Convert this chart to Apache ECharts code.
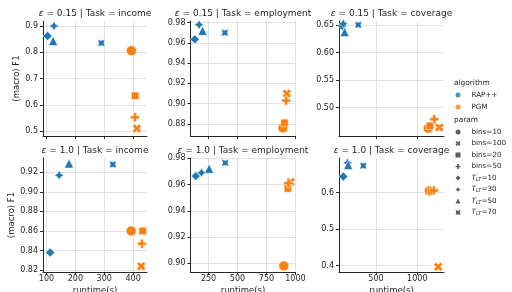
<!DOCTYPE html>
<html>
<head>
<meta charset="utf-8">
<script src="https://cdn.jsdelivr.net/npm/echarts@6/dist/echarts.min.js"></script>
<style>
html, body { margin: 0; padding: 0; background: #fff; }
#chart { width: 512px; height: 292px; }
</style>
</head>
<body>
<div id="chart"></div>
<script>
// point order in every panel: first 4 are RAP++, last 4 are PGM
const params = ['T_LT=10', 'T_LT=30', 'T_LT=50', 'T_LT=70', 'bins=10', 'bins=100', 'bins=20', 'bins=50'];
const algorithms = ['RAP++', 'PGM'];
const legendParams = ['bins=10', 'bins=100', 'bins=20', 'bins=50', 'T_LT=10', 'T_LT=30', 'T_LT=50', 'T_LT=70'];
const epsilons = ['0.15', '1.0'];
const tasks = ['income', 'employment', 'coverage'];

// ε = 0.15
const runtimeIncome015 = [104, 126, 123, 290, 394, 413, 407, 406];
const f1Income015 = [0.862, 0.900, 0.843, 0.835, 0.806, 0.510, 0.634, 0.552];
const runtimeEmployment015 = [131, 168, 198, 391, 892, 926, 906, 920];
const f1Employment015 = [0.9636, 0.978, 0.972, 0.970, 0.876, 0.910, 0.881, 0.903];
const runtimeCoverage015 = [92, 105, 121, 286, 1133, 1266, 1153, 1205];
const f1Coverage015 = [0.648, 0.652, 0.637, 0.650, 0.4625, 0.464, 0.467, 0.479];
// ε = 1.0
const runtimeIncome10 = [113, 144, 178, 330, 393, 428, 433, 430];
const f1Income10 = [0.838, 0.917, 0.929, 0.928, 0.860, 0.824, 0.860, 0.847];
const runtimeEmployment10 = [140, 189, 255, 394, 900, 960, 935, 940];
const f1Employment10 = [0.9664, 0.969, 0.972, 0.9765, 0.898, 0.962, 0.957, 0.961];
const runtimeCoverage10 = [105, 157, 165, 347, 1145, 1253, 1165, 1201];
const f1Coverage10 = [0.644, 0.682, 0.676, 0.674, 0.605, 0.397, 0.605, 0.606];

// tick labels
const xTicksIncome = [100, 200, 300, 400];
const xTicksEmployment = [250, 500, 750, 1000];
const xTicksCoverage = [500, 1000];
const yTicksIncome015 = [0.5, 0.6, 0.7, 0.8, 0.9];
const yTicksEmployment015 = [0.88, 0.90, 0.92, 0.94, 0.96, 0.98];
const yTicksCoverage015 = [0.50, 0.55, 0.60, 0.65];
const yTicksIncome10 = [0.82, 0.84, 0.86, 0.88, 0.90, 0.92];
const yTicksEmployment10 = [0.90, 0.92, 0.94, 0.96, 0.98];
const yTicksCoverage10 = [0.4, 0.5, 0.6];

// panels row by row
const runtimes = [runtimeIncome015, runtimeEmployment015, runtimeCoverage015, runtimeIncome10, runtimeEmployment10, runtimeCoverage10];
const f1s = [f1Income015, f1Employment015, f1Coverage015, f1Income10, f1Employment10, f1Coverage10];
const xTicks = [xTicksIncome, xTicksEmployment, xTicksCoverage];
const yTicks = [yTicksIncome015, yTicksEmployment015, yTicksCoverage015, yTicksIncome10, yTicksEmployment10, yTicksCoverage10];
const yDecimals = [1, 2, 2, 2, 2, 1];

// layout (matplotlib style margins)
const colLeft = [43, 190.5, 339];
const colWidth = [104, 105, 105];
const rowTop = [21, 158];
const rowHeight = [115, 114];
const xRange = [[88, 448], [94, 1001], [53, 1323]];
const yRange = [[0.481, 0.919], [0.868, 0.9817], [0.4486, 0.657], [0.818, 0.9346], [0.8934, 0.9802], [0.3827, 0.695]];

const colors = ['#1f77b4', '#ff7f0e'];
const ink = '#262626';
const font = 'DejaVu Sans';

const X_PATH = 'path://M1,0L2,1L3,0L4,1L3,2L4,3L3,4L2,3L1,4L0,3L1,2L0,1Z';
const P_PATH = 'path://M2,0L4,0L4,2L6,2L6,4L4,4L4,6L2,6L2,4L0,4L0,2L2,2Z';
const STAR_PATH = 'path://M2,0L1.29,1.29L0,2L1.29,2.71L2,4L2.71,2.71L4,2L2.71,1.29Z';
const STAR45_PATH = 'path://M0.586,0.586L2,1L3.414,0.586L3,2L3.414,3.414L2,3L0.586,3.414L1,2Z';
const markers = {
  'bins=10': ['circle', 10],
  'bins=100': [X_PATH, 9],
  'bins=20': ['rect', 7.5],
  'bins=50': [P_PATH, 9],
  'T_LT=10': ['diamond', 9],
  'T_LT=30': [STAR_PATH, 9.5],
  'T_LT=50': ['triangle', 9],
  'T_LT=70': [STAR45_PATH, 7]
};

var myChart = echarts.init(document.getElementById('chart'));

const grid = [], xAxis = [], yAxis = [], series = [], graphic = [];
for (let p = 0; p < 6; p++) {
  const row = Math.floor(p / 3), col = p % 3;
  grid.push({
    left: colLeft[col], top: rowTop[row], width: colWidth[col], height: rowHeight[row],
    containLabel: false, outerBoundsMode: 'none'
  });
  xAxis.push({
    gridIndex: p, type: 'value', min: xRange[col][0], max: xRange[col][1],
    name: row === 1 ? 'runtime(s)' : '', nameLocation: 'middle', nameGap: 14,
    nameTextStyle: { fontSize: 8.5, color: ink, fontFamily: font },
    axisLine: { show: true, lineStyle: { color: ink, width: 1 } },
    axisTick: { show: true, length: 3, customValues: xTicks[col], lineStyle: { color: ink } },
    axisLabel: {
      show: row === 1, customValues: xTicks[col], fontSize: 8, color: ink, fontFamily: font, margin: 3,
      formatter: (v) => String(v)
    },
    splitLine: { show: true, lineStyle: { color: '#dadada', width: 0.8 } }
  });
  yAxis.push({
    gridIndex: p, type: 'value', min: yRange[p][0], max: yRange[p][1],
    name: col === 0 ? '(macro) F1' : '', nameLocation: 'middle', nameGap: 22,
    nameTextStyle: { fontSize: 8.5, color: ink, fontFamily: font },
    axisLine: { show: true, lineStyle: { color: ink, width: 1 } },
    axisTick: { show: true, length: 3, customValues: yTicks[p], lineStyle: { color: ink } },
    axisLabel: {
      customValues: yTicks[p], fontSize: 8, color: ink, fontFamily: font, margin: 5,
      formatter: (v) => v.toFixed(yDecimals[p])
    },
    splitLine: { show: true, lineStyle: { color: '#dadada', width: 0.8 } }
  });
  for (let a = 0; a < 2; a++) {
    const data = [];
    for (let i = a * 4; i < a * 4 + 4; i++) {
      const m = markers[params[i]];
      data.push({ value: [runtimes[p][i], f1s[p][i]], symbol: m[0], symbolSize: m[1] });
    }
    series.push({
      type: 'scatter', xAxisIndex: p, yAxisIndex: p, data: data,
      itemStyle: { color: colors[a], borderColor: '#fff', borderWidth: 0.5, opacity: 1 },
      silent: true
    });
  }
  // panel titles
  graphic.push({
    type: 'text',
    x: colLeft[col] + colWidth[col] / 2, y: rowTop[row] - 7,
    style: {
      text: '{e|ε} = ' + epsilons[row] + ' | Task = ' + tasks[col],
      align: 'center', verticalAlign: 'middle',
      fontSize: 9, fontFamily: font, fill: ink,
      rich: { e: { fontStyle: 'italic', fontSize: 9, fontFamily: font, fill: ink } }
    }
  });
}

// legend-only series
algorithms.forEach((name, a) => {
  series.push({ name: name, type: 'scatter', data: [], itemStyle: { color: colors[a] } });
});
legendParams.forEach((name) => {
  series.push({ name: name, type: 'scatter', data: [], symbol: markers[name][0], itemStyle: { color: '#333' } });
});

graphic.push(
  { type: 'text', x: 454, y: 83, style: { text: 'algorithm', fontSize: 7.4, fontFamily: font, fill: ink, verticalAlign: 'middle' } },
  { type: 'text', x: 454, y: 120, style: { text: 'param', fontSize: 7.4, fontFamily: font, fill: ink, verticalAlign: 'middle' } }
);

const legendText = {
  fontSize: 7.2, fontFamily: font, color: ink, lineHeight: 8, padding: [0, 0, 0, 6],
  rich: {
    it: { fontStyle: 'italic', fontSize: 7.2, fontFamily: font, color: ink, lineHeight: 8 },
    sub: { fontStyle: 'italic', fontSize: 5, fontFamily: font, color: ink, lineHeight: 8, verticalAlign: 'bottom' }
  }
};
const legendFormatter = (name) => {
  if (name.indexOf('T_LT') === 0) return '{it|T}{sub|LT}' + name.slice(4);
  return name;
};

const option = {
  animation: false,
  backgroundColor: '#fff',
  grid: grid,
  xAxis: xAxis,
  yAxis: yAxis,
  series: series,
  graphic: graphic,
  legend: [
    {
      orient: 'vertical', left: 455.5, top: 91, padding: 0, itemGap: 4,
      itemWidth: 5, itemHeight: 5, selectedMode: false,
      data: algorithms.map((n) => ({ name: n, icon: 'circle' })),
      textStyle: legendText, formatter: legendFormatter
    },
    {
      orient: 'vertical', left: 455.5, top: 128, padding: 0, itemGap: 3.5,
      itemWidth: 5, itemHeight: 5, selectedMode: false,
      data: legendParams.map((n) => ({ name: n, icon: markers[n][0] })),
      textStyle: legendText, formatter: legendFormatter
    }
  ]
};

myChart.setOption(option);
</script>
</body>
</html>
